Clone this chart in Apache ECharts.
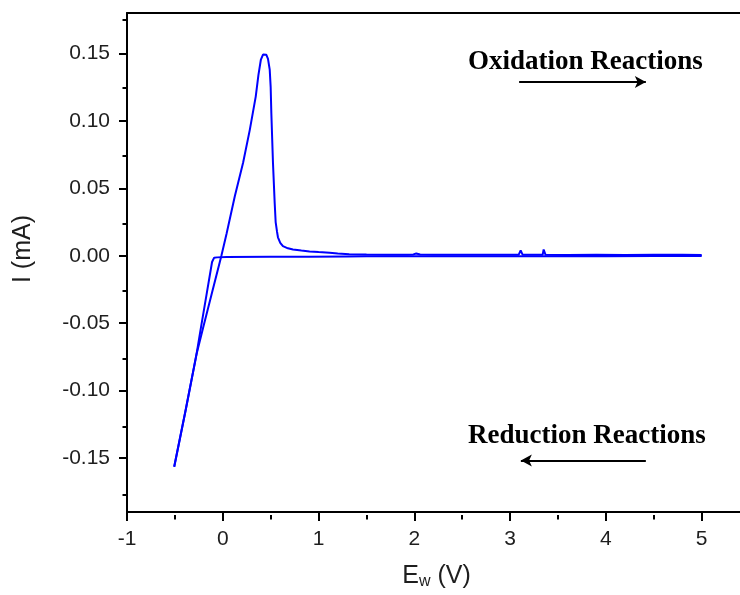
<!DOCTYPE html>
<html>
<head>
<meta charset="utf-8">
<script src="https://cdn.jsdelivr.net/npm/echarts@6/dist/echarts.min.js"></script>
<style>
html,body{margin:0;padding:0;background:#fff;}
#chart{width:740px;height:595px;}
</style>
</head>
<body>
<div id="chart"></div>
<script>
// Cathodic (reverse) scan: from 5.0 V down to -0.5 V
const reverseE = [5.0, 4.5, 4.0, 3.5, 3.0, 2.5, 2.0, 1.5, 1.3, 0.9, 0.5, 0.04, -0.06, -0.09, -0.101, -0.112, -0.170, -0.229, -0.275, -0.389, -0.507];
const reverseI = [-0.0002, -0.0002, -0.0003, -0.0003, -0.0003, -0.0003, -0.0004, -0.0004, -0.0005, -0.0007, -0.0008, -0.0010, -0.0012, -0.0014, -0.0018, -0.0046, -0.0290, -0.0536, -0.0733, -0.1149, -0.1565];

// Anodic (forward) scan: from -0.5 V up to 5.0 V
const forwardE = [-0.507, -0.389, -0.275, -0.206, -0.118, -0.031, -0.014, 0.040, 0.125, 0.212, 0.281, 0.344, 0.372, 0.398, 0.420, 0.4375, 0.455, 0.472, 0.490, 0.500, 0.507, 0.524, 0.542, 0.552, 0.566, 0.576, 0.600, 0.628, 0.680, 0.733, 0.820, 0.906, 1.000, 1.115, 1.200, 1.320, 1.500, 1.700, 1.930, 1.950, 1.990, 2.020, 2.060, 2.200, 2.600, 3.000, 3.090, 3.110, 3.130, 3.300, 3.340, 3.350, 3.370, 3.600, 3.900, 4.200, 4.500, 4.800, 5.000];
const forwardI = [-0.1565, -0.1149, -0.0733, -0.0536, -0.0290, -0.0046, 0.0002, 0.0165, 0.0440, 0.0690, 0.0930, 0.1180, 0.1340, 0.1455, 0.1492, 0.1500, 0.1490, 0.1460, 0.1380, 0.1250, 0.1056, 0.0690, 0.0390, 0.0250, 0.0180, 0.0137, 0.0095, 0.0071, 0.0055, 0.0047, 0.0039, 0.0032, 0.0027, 0.0022, 0.0016, 0.0012, 0.0009, 0.0008, 0.0008, 0.0017, 0.0010, 0.0017, 0.0009, 0.0008, 0.0007, 0.0007, 0.0008, 0.0040, 0.0008, 0.0007, 0.0008, 0.0046, 0.0007, 0.0006, 0.0007, 0.0006, 0.0007, 0.0007, 0.0005];

// Axis ticks and labels
const xTicks = [-1, 0, 1, 2, 3, 4, 5];
const xMinorTicks = [-0.5, 0.5, 1.5, 2.5, 3.5, 4.5];
const yTicks = [-0.15, -0.10, -0.05, 0, 0.05, 0.10, 0.15];
const yMinorTicks = [-0.175, -0.125, -0.075, -0.025, 0.025, 0.075, 0.125, 0.175];

const annotations = ['Oxidation Reactions', 'Reduction Reactions'];

const X_MIN = -1, X_MAX = 5.4, Y_MIN = -0.19, Y_MAX = 0.18;

function zip(a, b) { return a.map((v, i) => [v, b[i]]); }

const chart = echarts.init(document.getElementById('chart'), null, {renderer: 'canvas'});
const gridBox = {left: 127, top: 13, width: 614.4, height: 502};
const labelFont = {fontFamily: '"Liberation Sans", Arial, sans-serif', fontSize: 21, color: '#1e1e1e'};

chart.setOption({
  animation: false,
  backgroundColor: '#ffffff',
  grid: [
    Object.assign({}, gridBox),
    Object.assign({}, gridBox)
  ],
  xAxis: [
    {
      type: 'value', gridIndex: 0, position: 'bottom', min: X_MIN, max: X_MAX,
      axisLine: {show: true, onZero: false, lineStyle: {color: '#000', width: 2}},
      axisTick: {show: true, inside: false, length: 9, customValues: xTicks, lineStyle: {color: '#000', width: 2}},
      axisLabel: Object.assign({show: true, margin: 17, customValues: xTicks, formatter: v => String(v)}, labelFont),
      splitLine: {show: false},
      name: 'E{sub|w} (V)',
      nameLocation: 'middle',
      nameGap: 50,
      nameTextStyle: {
        fontFamily: '"Liberation Sans", Arial, sans-serif', fontSize: 25, color: '#1e1e1e',
        padding: [0, 0, 0, 6],
        rich: {
          sub: {fontFamily: '"Liberation Sans", Arial, sans-serif', fontSize: 16, color: '#1e1e1e', padding: [12, 0, 0, 0]}
        }
      }
    },
    {
      type: 'value', gridIndex: 0, position: 'top', min: X_MIN, max: X_MAX,
      axisLine: {show: true, onZero: false, lineStyle: {color: '#000', width: 2}},
      axisTick: {show: false}, axisLabel: {show: false}, splitLine: {show: false}
    },
    {
      type: 'value', gridIndex: 1, position: 'bottom', min: X_MIN, max: X_MAX,
      axisLine: {show: false, onZero: false},
      axisTick: {show: true, inside: false, length: 4.5, customValues: xMinorTicks, lineStyle: {color: '#000', width: 2}},
      axisLabel: {show: false}, splitLine: {show: false}
    }
  ],
  yAxis: [
    {
      type: 'value', gridIndex: 0, position: 'left', min: Y_MIN, max: Y_MAX,
      axisLine: {show: true, onZero: false, lineStyle: {color: '#000', width: 2}},
      axisTick: {show: true, inside: false, length: 8, customValues: yTicks, lineStyle: {color: '#000', width: 2}},
      axisLabel: Object.assign({show: true, margin: 17, customValues: yTicks, formatter: v => v.toFixed(2)}, labelFont),
      splitLine: {show: false}
    },
    {
      type: 'value', gridIndex: 1, position: 'left', min: Y_MIN, max: Y_MAX,
      axisLine: {show: false, onZero: false},
      axisTick: {show: true, inside: false, length: 4.5, customValues: yMinorTicks, lineStyle: {color: '#000', width: 2}},
      axisLabel: {show: false}, splitLine: {show: false}
    }
  ],
  graphic: [
    {
      type: 'text', x: 23, y: 249, rotation: Math.PI / 2,
      style: {text: 'I (mA)', fill: '#1e1e1e', font: '25px "Liberation Sans", Arial, sans-serif', textAlign: 'center', textVerticalAlign: 'middle'}
    },
    {
      type: 'text', x: 468, y: 62,
      style: {text: annotations[0], fill: '#000', font: 'bold 27px "Liberation Serif", "Times New Roman", serif', textAlign: 'left', textVerticalAlign: 'middle'}
    },
    {
      type: 'text', x: 468, y: 436,
      style: {text: annotations[1], fill: '#000', font: 'bold 27px "Liberation Serif", "Times New Roman", serif', textAlign: 'left', textVerticalAlign: 'middle'}
    }
  ],
  series: [
    {
      name: 'Reverse scan', type: 'line', xAxisIndex: 0, yAxisIndex: 0,
      data: zip(reverseE, reverseI), showSymbol: false, symbol: 'none', smooth: false,
      lineStyle: {color: '#0000ff', width: 2}, z: 3,
      markLine: {
        silent: true, symbol: ['none', 'arrow'], symbolSize: [9, 11],
        label: {show: false},
        lineStyle: {color: '#000', width: 2, type: 'solid'},
        data: [
          [{coord: [3.094, 0.1289]}, {coord: [4.417, 0.1289]}],
          [{coord: [4.417, -0.1519]}, {coord: [3.112, -0.1519]}]
        ]
      }
    },
    {
      name: 'Forward scan', type: 'line', xAxisIndex: 0, yAxisIndex: 0,
      data: zip(forwardE, forwardI), showSymbol: false, symbol: 'none', smooth: false,
      lineStyle: {color: '#0000ff', width: 2}, z: 3
    }
  ]
});
</script>
</body>
</html>
